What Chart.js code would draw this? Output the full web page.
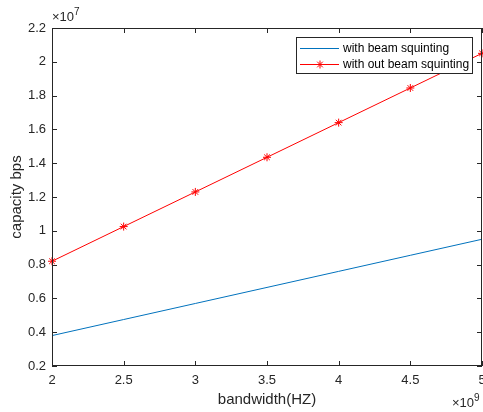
<!DOCTYPE html>
<html>
<head>
<meta charset="utf-8">
<script src="https://cdn.jsdelivr.net/npm/chart.js@4.4.0/dist/chart.umd.min.js"></script>
<style>
  html, body { margin: 0; padding: 0; background: #fff; overflow: hidden; }
  #wrap { width: 483px; height: 412px; }
</style>
</head>
<body>
<div id="wrap"><canvas id="cap"></canvas></div>
<script>
// bandwidth in units of 1e9 Hz, capacity in units of 1e7 bps
const bandwidth = [2, 2.5, 3, 3.5, 4, 4.5, 5];
const withSquint = [0.38, 0.475, 0.57, 0.665, 0.76, 0.855, 0.95];
const withoutSquint = [0.82, 1.025, 1.23, 1.435, 1.64, 1.845, 2.05];
const xTicks = [2, 2.5, 3, 3.5, 4, 4.5, 5];
const yTicks = [0.2, 0.4, 0.6, 0.8, 1, 1.2, 1.4, 1.6, 1.8, 2, 2.2];
const seriesNames = ['with beam squinting', 'with out beam squinting'];

const FONT = 'Arial, "Liberation Sans", Helvetica, sans-serif';
const TXT = '#262626';

const toPts = ys => bandwidth.map((x, i) => ({ x: x, y: ys[i] }));
const fmt = v => String(Math.round(v * 10) / 10);

// box, inward ticks, exponent labels and legend
const matlabAxes = {
    id: 'matlabAxes',
    afterDraw(chart) {
        const { ctx, chartArea: a, scales: { x, y } } = chart;
        ctx.save();
        ctx.strokeStyle = '#262626';
        ctx.lineWidth = 1;
        ctx.strokeRect(Math.round(a.left) + 0.5, Math.round(a.top) + 0.5,
            Math.round(a.right - a.left) - 1, Math.round(a.bottom - a.top) - 1);
        ctx.beginPath();
        xTicks.forEach(v => {
            const px = Math.round(x.getPixelForValue(v)) + 0.5;
            ctx.moveTo(px, a.bottom); ctx.lineTo(px, a.bottom - 5);
            ctx.moveTo(px, a.top); ctx.lineTo(px, a.top + 5);
        });
        yTicks.forEach(v => {
            const py = Math.round(y.getPixelForValue(v)) + 0.5;
            ctx.moveTo(a.left, py); ctx.lineTo(a.left + 5, py);
            ctx.moveTo(a.right, py); ctx.lineTo(a.right - 5, py);
        });
        ctx.stroke();

        // exponent labels
        ctx.fillStyle = TXT;
        ctx.textBaseline = 'alphabetic';
        ctx.textAlign = 'left';
        const expo = (bx, by, e) => {
            ctx.font = '13px ' + FONT;
            ctx.fillText('\u00d710', bx, by);
            const w = ctx.measureText('\u00d710').width;
            ctx.font = '10px ' + FONT;
            ctx.fillText(e, bx + w, by - 6);
        };
        expo(a.left, 21, '7');
        expo(452, 407, '9');

        // legend
        const lx = 296, ly = 37, lw = 177, lh = 37;
        ctx.fillStyle = '#fff';
        ctx.fillRect(lx, ly, lw, lh);
        ctx.strokeStyle = '#262626';
        ctx.strokeRect(lx + 0.5, ly + 0.5, lw - 1, lh - 1);
        ctx.font = '12px ' + FONT;
        ctx.textBaseline = 'middle';
        ctx.fillStyle = '#000';
        const rows = [
            { y: ly + 11, color: '#0072BD', star: false },
            { y: ly + 27, color: '#ff0000', star: true }
        ];
        rows.forEach((r, i) => {
            ctx.strokeStyle = r.color;
            ctx.beginPath();
            ctx.moveTo(lx + 4, r.y + 0.5); ctx.lineTo(lx + 43, r.y + 0.5);
            ctx.stroke();
            if (r.star) {
                Chart.helpers.drawPoint(ctx, { pointStyle: 'star', radius: 4, borderWidth: 1 }, lx + 24, r.y + 0.5);
            }
            ctx.fillText(seriesNames[i], lx + 47, r.y + 1);
        });
        ctx.restore();
    }
};

new Chart(document.getElementById('cap'), {
    type: 'line',
    data: {
        datasets: [{
            label: seriesNames[0],
            data: toPts(withSquint),
            borderColor: '#0072BD',
            borderWidth: 1,
            pointRadius: 0,
            tension: 0
        }, {
            label: seriesNames[1],
            data: toPts(withoutSquint),
            borderColor: '#ff0000',
            backgroundColor: '#ff0000',
            borderWidth: 1,
            pointStyle: 'star',
            pointRadius: 4,
            pointBorderWidth: 1,
            pointBorderColor: '#ff0000',
            tension: 0,
            clip: false
        }]
    },
    options: {
        responsive: true,
        maintainAspectRatio: false,
        animation: false,
        layout: { autoPadding: false, padding: { top: 28, right: 1, left: 0, bottom: 0 } },
        plugins: { legend: { display: false }, tooltip: { enabled: false } },
        scales: {
            x: {
                type: 'linear', min: 2, max: 5,
                afterFit: s => { s.height = 46; s.paddingLeft = 0; s.paddingRight = 0; },
                afterBuildTicks: s => { s.ticks = xTicks.map(v => ({ value: v })); },
                grid: { display: false, drawTicks: false },
                border: { display: false },
                ticks: { color: TXT, font: { family: FONT, size: 13 }, padding: 7, maxRotation: 0, callback: fmt },
                title: { display: true, text: 'bandwidth(HZ)', color: TXT, font: { family: FONT, size: 15 }, padding: { top: 0, bottom: 3 } }
            },
            y: {
                type: 'linear', min: 0.2, max: 2.2,
                afterFit: s => { s.width = 52; s.paddingTop = 0; s.paddingBottom = 0; },
                afterBuildTicks: s => { s.ticks = yTicks.map(v => ({ value: v })); },
                grid: { display: false, drawTicks: false },
                border: { display: false },
                ticks: { color: TXT, font: { family: FONT, size: 13 }, padding: 6, callback: fmt },
                title: { display: true, text: 'capacity bps', color: TXT, font: { family: FONT, size: 15 }, padding: { top: 8, bottom: 0 } }
            }
        }
    },
    plugins: [matlabAxes]
});
</script>
</body>
</html>
